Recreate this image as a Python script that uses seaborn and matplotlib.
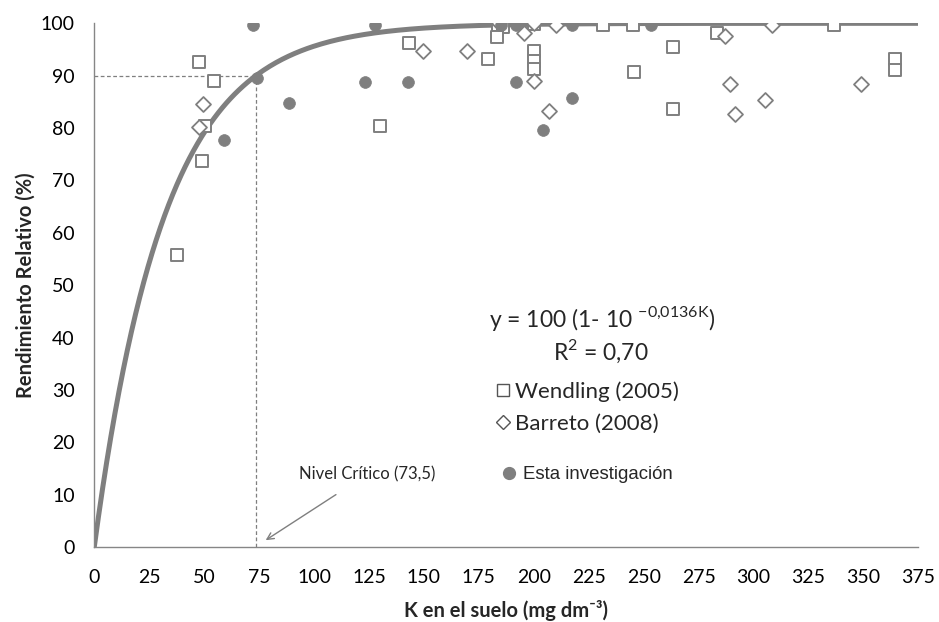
import numpy as np
import pandas as pd
import seaborn as sns
import matplotlib.pyplot as plt
from matplotlib.lines import Line2D

# Wendling (2005)
wend_k = [37.5, 47.6, 54.5, 50.4, 48.9, 130.0, 143.4, 179.3, 183.5, 186.0, 183.1,
          200.0, 200.0, 200.0, 200.0, 231.4, 245.3, 245.6, 263.5, 263.5, 283.5,
          336.6, 364.4, 364.4]
wend_rr = [55.7, 92.6, 89.0, 80.3, 73.7, 80.3, 96.2, 93.1, 99.7, 99.3, 97.4,
           99.8, 94.8, 92.9, 91.2, 99.7, 99.7, 90.7, 95.5, 83.7, 98.2,
           99.7, 93.1, 91.0]
# Barreto (2008)
barr_k = [49.6, 47.6, 149.5, 169.5, 184.0, 195.4, 200.0, 200.0, 207.1, 210.0,
          287.0, 289.3, 291.6, 305.2, 308.3, 348.9]
barr_rr = [84.5, 80.2, 94.8, 94.8, 100.0, 98.2, 100.0, 89.0, 83.3, 99.7,
           97.5, 88.4, 82.6, 85.3, 99.7, 88.4]
# Esta investigacion
esta_k = [72.4, 73.9, 59.0, 88.8, 123.2, 127.7, 142.9, 185.0, 191.9, 191.9,
          204.4, 217.3, 217.3, 253.5]
esta_rr = [99.7, 89.6, 77.8, 84.8, 88.8, 99.7, 88.8, 99.7, 99.7, 88.8,
           79.7, 99.7, 85.7, 99.7]

nivel_critico = 73.5
coef = 0.0136

df = pd.concat([
    pd.DataFrame({"K": wend_k, "RR": wend_rr, "fuente": "Wendling (2005)"}),
    pd.DataFrame({"K": barr_k, "RR": barr_rr, "fuente": "Barreto (2008)"}),
    pd.DataFrame({"K": esta_k, "RR": esta_rr, "fuente": "Esta investigación"}),
], ignore_index=True)

sns.set_style("white")
plt.rcParams['font.family'] = ['Lato', 'DejaVu Sans']
plt.rcParams['mathtext.fontset'] = 'custom'
plt.rcParams['mathtext.rm'] = 'Lato'

GRAY = "#7f7f7f"
AX_GRAY = "#868686"

fig = plt.figure(figsize=(9.39, 6.22), dpi=100)
ax = fig.add_axes([0.1004, 0.1206, 0.8776, 0.8419])

# fitted curve
kk = np.linspace(0, 375, 400)
ax.plot(kk, 100 * (1 - 10 ** (-coef * kk)), color=GRAY, lw=3.6, zorder=2,
        solid_capstyle="butt")

# critical level guides
rr_crit = 100 * (1 - 10 ** (-coef * nivel_critico))
ax.plot([0, nivel_critico], [rr_crit, rr_crit], ls=(0, (3, 2)), color=GRAY, lw=0.9, zorder=1)
ax.plot([nivel_critico, nivel_critico], [0, rr_crit], ls=(0, (3, 2)), color=GRAY, lw=0.9, zorder=1)

styles = {
    "Wendling (2005)": dict(marker="s", s=85, facecolor="white", edgecolor=GRAY, linewidth=1.4),
    "Barreto (2008)": dict(marker="D", s=58, facecolor="white", edgecolor=GRAY, linewidth=1.3),
    "Esta investigación": dict(marker="o", s=72, facecolor=GRAY, edgecolor=GRAY, linewidth=0.5),
}
for name, st in styles.items():
    sub = df[df["fuente"] == name]
    sns.scatterplot(data=sub, x="K", y="RR", ax=ax, zorder=3, legend=False, **st)

ax.set_xlim(0, 375)
ax.set_ylim(0, 100)
ax.set_xticks(np.arange(0, 376, 25))
ax.set_yticks(np.arange(0, 101, 10))
ax.set_xlabel("K en el suelo (mg dm⁻³)", fontsize=14.5, fontweight="bold", labelpad=10)
ax.set_ylabel("Rendimiento Relativo (%)", fontsize=14.5, fontweight="bold", labelpad=4)

for side in ["top", "right"]:
    ax.spines[side].set_visible(False)
for side in ["left", "bottom"]:
    ax.spines[side].set_color(AX_GRAY)
    ax.spines[side].set_linewidth(1.0)
ax.tick_params(axis="both", direction="out", length=5, width=1, color=AX_GRAY,
               labelsize=14, labelcolor="black")
ax.tick_params(axis="y", pad=9)
ax.tick_params(axis="x", pad=11)

# equation
ax.text(231, 43.7, r"y = 100 (1- 10 $^{\mathrm{-0{,}0136K}}$)", fontsize=16.5,
        ha="center", va="center")
ax.text(230.5, 37.3, r"R$^{2}$ = 0,70", fontsize=16.5, ha="center", va="center")

# annotation
ax.annotate("Nivel Crítico (73,5)", xy=(78, 1.3), xytext=(124.3, 13.9),
            ha="center", va="center", fontsize=12,
            arrowprops=dict(arrowstyle="->", color=GRAY, lw=1.0,
                            shrinkA=12, shrinkB=0))

names = list(styles.keys())
h_wend = Line2D([], [], ls="", marker="s", ms=8.5, mfc="white", mec="#555555", mew=1.0)
h_barr = Line2D([], [], ls="", marker="D", ms=7.5, mfc="white", mec="#555555", mew=1.0)
h_esta = Line2D([], [], ls="", marker="o", ms=8.5, mfc=GRAY, mec=GRAY)

leg1 = ax.legend([h_wend, h_barr], names[:2], loc="center left",
                 bbox_to_anchor=(0.4596, 0.2664), frameon=False, fontsize=16,
                 handletextpad=0.1, labelspacing=0.55, handlelength=0.9,
                 borderpad=0.4)
ax.add_artist(leg1)
leg2 = ax.legend([h_esta], names[2:], loc="center left",
                 bbox_to_anchor=(0.4712, 0.1375), frameon=False,
                 handletextpad=0.25, handlelength=1.0, borderpad=0.4,
                 prop={"family": "Liberation Sans", "size": 13.4})

fig.savefig("out.png", dpi=100)
